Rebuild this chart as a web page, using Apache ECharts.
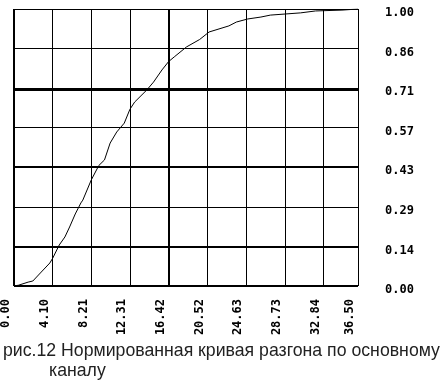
<!DOCTYPE html>
<html>
<head>
<meta charset="utf-8">
<script src="https://cdn.jsdelivr.net/npm/echarts@6/dist/echarts.min.js"></script>
<style>html,body{margin:0;padding:0;background:#fff}#c{width:443px;height:380px}</style>
</head>
<body>
<div id="c"></div>
<script>
// Curve samples (time, normalized value)
var curveX = [0, 0.5, 1.5, 2.0, 2.8, 3.8, 4.1, 4.8, 5.4, 5.9, 6.5, 7.1, 7.3, 8.2, 9.0, 9.6, 10.2, 10.9, 11.7, 12.3, 12.8, 14.1, 14.8, 15.7, 16.4, 17.0, 18.3, 19.7, 20.7, 22.8, 23.6, 24.8, 26.2, 27.2, 28.8, 30.4, 32.0, 34.8, 36.5];
var curveY = [0, 0.003, 0.014, 0.018, 0.047, 0.083, 0.10, 0.148, 0.177, 0.213, 0.26, 0.30, 0.31, 0.383, 0.435, 0.455, 0.516, 0.556, 0.588, 0.638, 0.664, 0.708, 0.736, 0.78, 0.81, 0.827, 0.863, 0.89, 0.917, 0.939, 0.953, 0.964, 0.971, 0.978, 0.982, 0.986, 0.993, 0.996, 1.0];
var xTicks = [0, 4.105, 8.21, 12.315, 16.42, 20.525, 24.63, 28.735, 32.84, 36.5];
var xTickLabels = ['0.00', '4.10', '8.21', '12.31', '16.42', '20.52', '24.63', '28.73', '32.84', '36.50'];
var yTickLabels = ['0.00', '0.14', '0.29', '0.43', '0.57', '0.71', '0.86', '1.00'];
var captionLine1 = 'рис.12 Нормированная кривая разгона по основному';
var captionLine2 = 'каналу';

var data = curveX.map(function (x, i) { return [x, curveY[i]]; });
function nearestX(v) {
  var best = 0;
  for (var i = 1; i < xTicks.length; i++) if (Math.abs(xTicks[i] - v) < Math.abs(xTicks[best] - v)) best = i;
  return xTickLabels[best];
}
var labelFont = { fontFamily: 'DejaVu Sans Mono', fontWeight: 'bold', fontSize: 12, color: '#000' };
var capFont = { fontFamily: 'Liberation Sans', fontWeight: 'normal', fontSize: 17.7, color: '#222' };
var chart = echarts.init(document.getElementById('c'), null, { renderer: 'canvas' });
chart.setOption({
  animation: false,
  backgroundColor: '#fff',
  title: [
    { text: captionLine1, left: 3, top: 342, padding: 0, textStyle: capFont },
    { text: captionLine2, left: 49, top: 362, padding: 0, textStyle: capFont }
  ],
  grid: { left: 11, top: 9, right: 85, bottom: 94, containLabel: false },
  xAxis: {
    type: 'value', min: 0, max: 36.5, interval: 4.105,
    axisLine: { show: false }, axisTick: { show: false },
    splitLine: { show: true, lineStyle: { color: '#000', width: 1 } },
    axisLabel: Object.assign({ rotate: 90, margin: 13, verticalAlign: 'bottom', padding: [0, 0, 2, 0], formatter: nearestX }, labelFont)
  },
  yAxis: {
    type: 'value', position: 'right', min: 0, max: 1, interval: 1 / 7,
    axisLine: { show: false }, axisTick: { show: false },
    splitLine: { show: true, lineStyle: { color: '#000', width: 1 } },
    axisLabel: Object.assign({ margin: 27, verticalAlign: 'top', lineHeight: 8, formatter: function (v) { return yTickLabels[Math.round(v * 7)]; } }, labelFont)
  },
  series: [{
    type: 'line', data: data, symbol: 'none', smooth: false,
    lineStyle: { color: '#000', width: 1 },
    markLine: {
      silent: true, symbol: 'none', label: { show: false },
      lineStyle: { color: '#000', width: 2, type: 'solid' },
      data: [{ xAxis: xTicks[0] }, { xAxis: xTicks[4] }, { yAxis: 0 }, { yAxis: 1 / 7 }, { yAxis: 3 / 7 }, { yAxis: 5 / 7 }]
    }
  }]
});
</script>
</body>
</html>
